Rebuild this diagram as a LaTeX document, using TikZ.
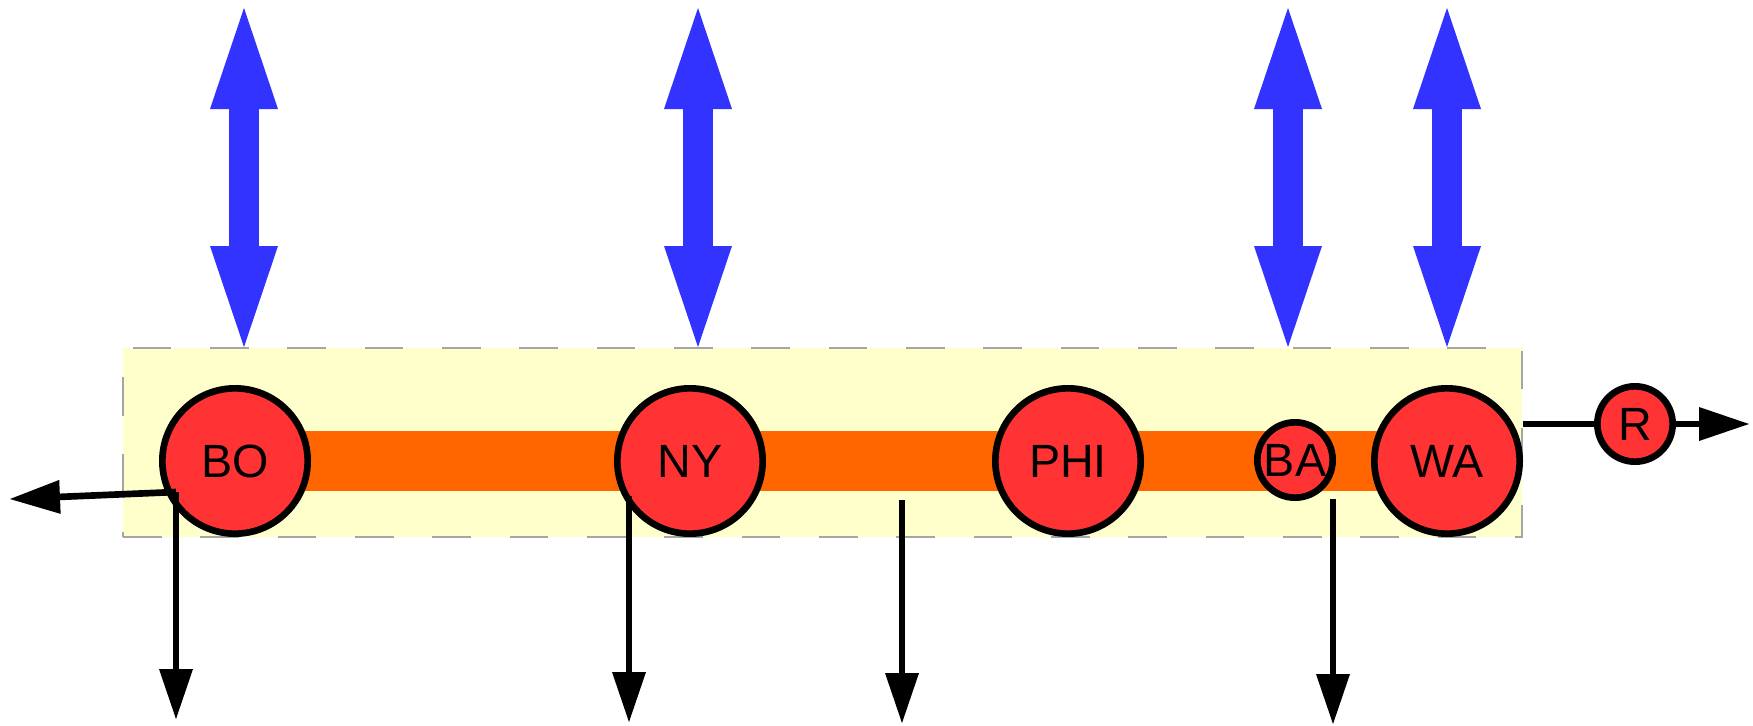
\documentclass[tikz,border=0pt]{standalone}
\usepackage{fontspec}
\setmainfont{Liberation Sans}
\usetikzlibrary{arrows.meta,backgrounds}

\definecolor{zonefill}{RGB}{255,255,204}
\definecolor{zoneedge}{RGB}{165,165,165}
\definecolor{trackorange}{RGB}{255,102,0}
\definecolor{stationred}{RGB}{255,51,51}
\definecolor{flowblue}{RGB}{51,51,255}

\tikzset{every picture/.style={line width=0.75pt}}
\tikzset{
  station/.style={circle, draw=black, fill=stationred, line width=5pt, minimum size=109pt, inner sep=0pt, font=\fontsize{35}{40}\selectfont},
  halt/.style={station, minimum size=56.5pt},
  zone/.style={rectangle, fill=zonefill, draw=zoneedge, line width=1.1pt, dash pattern=on 29pt off 29pt, minimum width=1049.25pt, minimum height=141.75pt, inner sep=0pt},
  track/.style={draw=trackorange, line width=45pt},
  flow/.style={draw=flowblue, line width=22.5pt, arrows={Triangle[length=75.75pt,width=51pt,line width=0pt]-Triangle[length=75.75pt,width=51pt,line width=0pt]}},
  link/.style={draw=black, line width=5pt},
  outflow/.style={link, arrows={-Triangle[length=37.5pt,width=25.5pt,line width=0pt]}},
}

\begin{document}
\begin{tikzpicture}[x=0.75pt,y=0.75pt,yscale=-1,xscale=1]
	\useasboundingbox (0,0) rectangle (1753,725);
	
	%Shape: Circle
	\node [station] (BO) at (235,461) {BO};
	%Shape: Circle
	\node [station] (NY) at (690,461) {NY};
	%Shape: Circle
	\node [station] (PHI) at (1068,461) {PHI};
	%Shape: Circle
	\node [station] (WA) at (1447,461) {WA};
	%Shape: Circle
	\node [halt] (BA) at (1295,460) {BA};
	%Shape: Circle
	\node [halt] (R) at (1635,424) {R};
	
	%Shape: Rectangle and track
	\begin{scope}[on background layer]
		\node [zone] (zone) at (822.5,442.5) {};
		\draw [track] (BO.center) -- (WA.center);
	\end{scope}
	
	%Free ends
	\coordinate (boIn) at (244,8);   \coordinate (boTop) at (244,347);
	\coordinate (nyIn) at (698,8);   \coordinate (nyTop) at (698,347);
	\coordinate (baIn) at (1288,8);  \coordinate (baTop) at (1288,347);
	\coordinate (waIn) at (1447,8);  \coordinate (waTop) at (1447,347);
	\coordinate (boJoin) at (176,492);
	\coordinate (boWest) at (10,499);
	\coordinate (boOut) at (176,719);
	\coordinate (nyJoin) at (629,496);
	\coordinate (nyOut) at (629,722);
	\coordinate (midJoin) at (902,500);
	\coordinate (midOut) at (902,723);
	\coordinate (baJoin) at (1333,499);
	\coordinate (baOut) at (1333,724);
	\coordinate (rOut) at (1749,424);
	
	%Double Arrows
	\draw [flow] (boIn) -- (boTop);
	\draw [flow] (nyIn) -- (nyTop);
	\draw [flow] (baIn) -- (baTop);
	\draw [flow] (waIn) -- (waTop);
	
	%Straight Lines
	\draw [outflow] (boJoin) -- (boWest);
	\draw [outflow] (boJoin) -- (boOut);
	\draw [outflow] (nyJoin) -- (nyOut);
	\draw [outflow] (midJoin) -- (midOut);
	\draw [outflow] (baJoin) -- (baOut);
	\draw [link] (zone.east |- R.west) -- (R.west);
	\draw [outflow] (R.east) -- (rOut);
	
\end{tikzpicture}
\end{document}
